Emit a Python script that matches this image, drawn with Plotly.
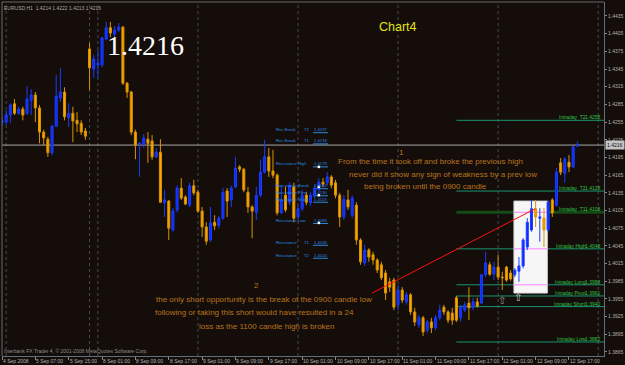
import plotly.graph_objects as go

# ---------------- data (EURUSD H1) ----------------
bar_open = [1.4253, 1.4255, 1.4267, 1.4286, 1.4270, 1.4277, 1.4270, 1.4292, 1.4301, 1.4279,
            1.4238, 1.4226, 1.4203, 1.4248, 1.4296, 1.4306, 1.4262, 1.4270, 1.4258, 1.4253,
            1.4240, 1.4379, 1.4345, 1.4352, 1.4352, 1.4396, 1.4415, 1.4404, 1.4411, 1.4416,
            1.4321, 1.4306, 1.4238, 1.4218, 1.4218, 1.4226, 1.4223, 1.4196, 1.4204, 1.4118,
            1.4121, 1.4072, 1.4106, 1.4143, 1.4128, 1.4114, 1.4147, 1.4136, 1.4104, 1.4077,
            1.4055, 1.4085, 1.4080, 1.4092, 1.4138, 1.4123, 1.4145, 1.4179, 1.4175, 1.4136,
            1.4111, 1.4102, 1.4131, 1.4170, 1.4196, 1.4172, 1.4165, 1.4101, 1.4131, 1.4119,
            1.4145, 1.4094, 1.4108, 1.4131, 1.4118, 1.4131, 1.4141, 1.4153, 1.4152, 1.4162,
            1.4152, 1.4131, 1.4094, 1.4123, 1.4097, 1.4114, 1.4055, 1.4016, 1.4038, 1.4030,
            1.4021, 1.4013, 1.3999, 1.3984, 1.3987, 1.3945, 1.3970, 1.3950, 1.3962, 1.3933,
            1.3911, 1.3923, 1.3902, 1.3916, 1.3906, 1.3923, 1.3941, 1.3933, 1.3931, 1.3957,
            1.3923, 1.3936, 1.3948, 1.3940, 1.3950, 1.3948, 1.3996, 1.4013, 1.3997, 1.4009,
            1.3992, 1.4009, 1.3999, 1.3996, 1.4002, 1.4011, 1.4043, 1.4072, 1.4108, 1.4092,
            1.4092, 1.4072, 1.4123, 1.4114, 1.4186, 1.4168, 1.4187, 1.4179, 1.4214]
bar_high = [1.4264, 1.4275, 1.4287, 1.4294, 1.4281, 1.4281, 1.4316, 1.4311, 1.4306, 1.4284,
            1.4242, 1.4230, 1.4250, 1.4335, 1.4347, 1.4314, 1.4287, 1.4281, 1.4272, 1.4258,
            1.4245, 1.4389, 1.4369, 1.4377, 1.4399, 1.4425, 1.4425, 1.4418, 1.4423, 1.4418,
            1.4323, 1.4308, 1.4242, 1.4221, 1.4235, 1.4238, 1.4233, 1.4211, 1.4226, 1.4140,
            1.4123, 1.4109, 1.4148, 1.4160, 1.4131, 1.4152, 1.4157, 1.4140, 1.4111, 1.4085,
            1.4111, 1.4097, 1.4096, 1.4143, 1.4143, 1.4147, 1.4196, 1.4182, 1.4177, 1.4145,
            1.4114, 1.4145, 1.4191, 1.4225, 1.4211, 1.4208, 1.4168, 1.4148, 1.4145, 1.4153,
            1.4152, 1.4114, 1.4140, 1.4136, 1.4136, 1.4148, 1.4160, 1.4160, 1.4170, 1.4165,
            1.4157, 1.4135, 1.4131, 1.4140, 1.4131, 1.4119, 1.4058, 1.4047, 1.4041, 1.4035,
            1.4024, 1.4018, 1.4004, 1.3991, 1.3991, 1.3979, 1.3975, 1.3967, 1.3965, 1.3940,
            1.3928, 1.3926, 1.3919, 1.3923, 1.3928, 1.3945, 1.3945, 1.3936, 1.3940, 1.3960,
            1.3945, 1.3950, 1.3975, 1.3957, 1.3957, 1.3997, 1.4035, 1.4018, 1.4018, 1.4030,
            1.4001, 1.4011, 1.4004, 1.4007, 1.4026, 1.4058, 1.4092, 1.4123, 1.4123, 1.4109,
            1.4109, 1.4123, 1.4126, 1.4177, 1.4194, 1.4196, 1.4199, 1.4214, 1.4222]
bar_low = [1.4248, 1.4250, 1.4253, 1.4267, 1.4267, 1.4258, 1.4267, 1.4267, 1.4255, 1.4219,
           1.4216, 1.4196, 1.4199, 1.4247, 1.4289, 1.4258, 1.4247, 1.4221, 1.4238, 1.4233,
           1.4225, 1.4309, 1.4330, 1.4330, 1.4348, 1.4394, 1.4399, 1.4399, 1.4408, 1.4318,
           1.4296, 1.4233, 1.4192, 1.4162, 1.4211, 1.4186, 1.4191, 1.4194, 1.4118, 1.4094,
           1.4055, 1.4069, 1.4102, 1.4123, 1.4114, 1.4111, 1.4131, 1.4101, 1.4060, 1.4047,
           1.4052, 1.4072, 1.4075, 1.4089, 1.4094, 1.4111, 1.4143, 1.4170, 1.4136, 1.4101,
           1.4058, 1.4089, 1.4128, 1.4168, 1.4162, 1.4160, 1.4097, 1.4099, 1.4102, 1.4114,
           1.4085, 1.4089, 1.4104, 1.4114, 1.4113, 1.4126, 1.4138, 1.4145, 1.4147, 1.4143,
           1.4126, 1.4077, 1.4089, 1.4106, 1.4092, 1.4047, 1.4013, 1.4011, 1.4018, 1.4013,
           1.3999, 1.3987, 1.3953, 1.3967, 1.3936, 1.3936, 1.3948, 1.3945, 1.3928, 1.3909,
           1.3906, 1.3892, 1.3897, 1.3897, 1.3902, 1.3919, 1.3928, 1.3914, 1.3911, 1.3916,
           1.3916, 1.3933, 1.3919, 1.3936, 1.3940, 1.3946, 1.3992, 1.3994, 1.3987, 1.3987,
           1.3970, 1.3984, 1.3986, 1.3992, 1.3984, 1.4007, 1.4038, 1.4069, 1.4077, 1.4052,
           1.4043, 1.4069, 1.4094, 1.4111, 1.4165, 1.4152, 1.4170, 1.4177, 1.4213]
bar_close = [1.4258, 1.4267, 1.4284, 1.4270, 1.4277, 1.4267, 1.4294, 1.4301, 1.4279, 1.4238,
             1.4228, 1.4203, 1.4248, 1.4299, 1.4306, 1.4264, 1.4270, 1.4257, 1.4252, 1.4238,
             1.4231, 1.4347, 1.4362, 1.4355, 1.4398, 1.4415, 1.4406, 1.4411, 1.4416, 1.4321,
             1.4306, 1.4238, 1.4216, 1.4219, 1.4228, 1.4219, 1.4196, 1.4204, 1.4119, 1.4123,
             1.4075, 1.4104, 1.4143, 1.4126, 1.4116, 1.4147, 1.4135, 1.4104, 1.4077, 1.4053,
             1.4084, 1.4079, 1.4092, 1.4136, 1.4121, 1.4143, 1.4177, 1.4175, 1.4140, 1.4111,
             1.4104, 1.4131, 1.4170, 1.4196, 1.4172, 1.4165, 1.4101, 1.4123, 1.4106, 1.4148,
             1.4092, 1.4108, 1.4131, 1.4119, 1.4131, 1.4143, 1.4153, 1.4150, 1.4162, 1.4148,
             1.4131, 1.4094, 1.4124, 1.4111, 1.4126, 1.4055, 1.4018, 1.4038, 1.4026, 1.4021,
             1.4004, 1.3991, 1.3965, 1.3975, 1.3941, 1.3970, 1.3953, 1.3962, 1.3933, 1.3916,
             1.3923, 1.3899, 1.3916, 1.3906, 1.3923, 1.3936, 1.3933, 1.3919, 1.3919, 1.3919,
             1.3940, 1.3945, 1.3940, 1.3950, 1.3943, 1.3996, 1.4016, 1.3997, 1.4009, 1.3992,
             1.3991, 1.3987, 1.3989, 1.4004, 1.4011, 1.4055, 1.4085, 1.4108, 1.4094, 1.4094,
             1.4072, 1.4119, 1.4101, 1.4170, 1.4170, 1.4192, 1.4179, 1.4213, 1.4216]
bars = list(range(len(bar_open)))

time_labels = ["4 Sep 2008", "5 Sep 07:00", "5 Sep 15:00", "8 Sep 01:00", "8 Sep 09:00",
               "8 Sep 17:00", "9 Sep 01:00", "9 Sep 09:00", "9 Sep 17:00", "10 Sep 01:00",
               "10 Sep 09:00", "10 Sep 17:00", "11 Sep 01:00", "11 Sep 09:00", "11 Sep 17:00",
               "12 Sep 01:00", "12 Sep 09:00", "12 Sep 17:00"]
time_label_bars = [0, 8, 16, 24, 32, 40, 48, 56, 64, 72, 80, 88, 96, 104, 112, 120, 128, 136]

price_ticks = [1.3865, 1.3895, 1.3925, 1.3955, 1.3985, 1.4015, 1.4045, 1.4075, 1.4105, 1.4135,
               1.4165, 1.4195, 1.4225, 1.4255, 1.4285, 1.4315, 1.4345, 1.4375, 1.4405, 1.4435]
grid_bars = [1, 21, 23, 47, 71, 95, 119, 143]

res_names = ["Res Break", "Res Break", "Resistance High", "Resistance Break", "Resistance Pivot",
             "Resistance Short", "Resistance Low", "Resistance", "Resistance"]
res_tags = ["T2", "T1", "", "", "", "", "", "T1", "T2"]
res_values = [1.4237, 1.4218, 1.4179, 1.4142, 1.4130, 1.4119, 1.4083, 1.4046, 1.4024]
res_marks = [1.4179, 1.4145, 1.4131, 1.4084]
res_mark_bar = 76

int_names = ["Intraday  T2", "Intraday  T2", "Intraday  T1", "Intraday High", "Intraday Long",
             "Intraday Pivot", "Intraday Short", "Intraday Low"]
int_value_text = ["1.4258", "1.4128", "1.4108", "1.4048", "1.3988", "1.3961", "1.3940", "1.3882"]
int_levels = [1.4258, 1.4138, 1.4102, 1.4040, 1.3979, 1.3960, 1.3942, 1.3882]
int_start_bar = 109

box_bars = [122.8, 130.8]
box_prices = [1.3965, 1.4121]

red_bars = [88.8, 127.9]
red_prices = [1.3965, 1.4108]

arrow_bars = [120.0, 123.8]
arrow_prices = [1.3953, 1.3958]

header_text = "EURUSD,H1  1.4214 1.4222 1.4213 1.4216"
notes_top = ["From the time it took off and broke the previous high",
             "never did it show any sign of weakness by a prev low",
             "being broken until the 0900 candle"]
notes_bottom = ["the only short opportunity is the break of the 0900 candle low",
                "following or taking this short would have resulted in a 24",
                "loss as the 1100 candle high is broken"]

# ---------------- layout helpers ----------------
W, H = 625, 365
ML, MR, MT, MB = 2, 21, 2, 9
X_RANGE = [0, 144.4]
Y_RANGE = [1.38582, 1.44587]
BG = "#150d09"
SANS = "Liberation Sans, Arial, sans-serif"


def px(x):
    return (x - ML) / (W - ML - MR)


def py(y):
    return (H - MB - y) / (H - MT - MB)


fig = go.Figure()
fig.add_trace(go.Candlestick(
    x=bars, open=bar_open, high=bar_high, low=bar_low, close=bar_close,
    increasing=dict(line=dict(color="#1a3cff", width=1), fillcolor="#0b2bff"),
    decreasing=dict(line=dict(color="#d89400", width=1), fillcolor="#ffa500"),
    whiskerwidth=0, hoverinfo="skip", showlegend=False))

# white marker squares near resistance labels
fig.add_trace(go.Scatter(x=[res_mark_bar] * len(res_marks), y=res_marks, mode="markers",
                         marker=dict(symbol="square", size=2.5, color="#ffffff"),
                         hoverinfo="skip", showlegend=False))

shapes = []
for g in grid_bars:
    shapes.append(dict(type="line", xref="x", yref="paper", x0=g, x1=g, y0=0, y1=1,
                       line=dict(color="#434b55", width=1, dash="dot"), layer="below"))
# bid line
shapes.append(dict(type="line", xref="paper", yref="y", x0=0, x1=1, y0=bar_close[-1], y1=bar_close[-1],
                   line=dict(color="#a8a8a8", width=1), layer="below"))
# intraday levels
for i, lv in enumerate(int_levels):
    if int_names[i] == "Intraday  T1":
        ln = dict(color="#134a16", width=3)
    else:
        ln = dict(color="#1a9472", width=1)
    shapes.append(dict(type="line", xref="x", yref="y", x0=int_start_bar, x1=X_RANGE[1], y0=lv, y1=lv,
                       line=ln, layer="below"))
# white rectangle
shapes.append(dict(type="rect", xref="x", yref="y", x0=box_bars[0], x1=box_bars[1],
                   y0=box_prices[0], y1=box_prices[1], fillcolor="#f6f6f6",
                   line=dict(color="#d8d8d8", width=1), layer="below"))
for lv in int_levels:
    if box_prices[0] < lv < box_prices[1]:
        shapes.append(dict(type="line", xref="x", yref="y", x0=box_bars[0], x1=box_bars[1], y0=lv, y1=lv,
                           line=dict(color="#ff80ff", width=1), layer="below"))
# resistance underlines
for v in res_values:
    shapes.append(dict(type="line", xref="paper", yref="y", x0=px(313), x1=px(328), y0=v, y1=v,
                       line=dict(color="#2a8ae0", width=1), layer="below"))
# red trend line
shapes.append(dict(type="line", xref="x", yref="y", x0=red_bars[0], x1=red_bars[1],
                   y0=red_prices[0], y1=red_prices[1], line=dict(color="#ff1010", width=1), layer="above"))
# frame left/top
shapes.append(dict(type="line", xref="paper", yref="paper", x0=0, x1=0, y0=0, y1=1,
                   line=dict(color="#6a6a6a", width=1)))
shapes.append(dict(type="line", xref="paper", yref="paper", x0=0, x1=1, y0=1, y1=1,
                   line=dict(color="#6a6a6a", width=1)))

ann = []
# time labels
for b, t in zip(time_label_bars, time_labels):
    ann.append(dict(x=b, xref="x", y=0, yref="paper", text=t, showarrow=False, xanchor="left",
                    yanchor="top", xshift=-1, yshift=0, font=dict(family=SANS, size=5, color="#b4b4b4")))
# header + copyright
ann.append(dict(x=0, xref="paper", y=1, yref="paper", text=header_text, showarrow=False,
                xanchor="left", yanchor="top", yshift=-1, font=dict(family=SANS, size=5, color="#a8a8a8")))
ann.append(dict(x=0, xref="paper", y=0, yref="paper",
                text="Interbank FX Trader 4, \u00a9 2001-2008 MetaQuotes Software Corp.", showarrow=False,
                xanchor="left", yanchor="bottom", yshift=0, font=dict(family=SANS, size=5, color="#8c8c8c")))


def centered(x, y, text, size, color, family=SANS):
    return dict(x=px(x), xref="paper", y=py(y), yref="paper", text=text, showarrow=False,
                xanchor="center", yanchor="middle", font=dict(family=family, size=size, color=color))


# big price and Chart4
ann.append(centered(145, 45, f"{bar_close[-1]:.4f}", 28, "#ffffff",
                    "Liberation Serif, Times New Roman, serif"))
ann.append(centered(398, 27, "Chart4", 12.5, "#e2e21c"))
# current price box on the axis
ann.append(dict(x=1, xref="paper", y=bar_close[-1], yref="y", text=f"{bar_close[-1]:.4f}", showarrow=False,
                xanchor="left", yanchor="middle", bgcolor="#c4c4c4", borderpad=1, xshift=1,
                font=dict(family=SANS, size=5, color="#101010")))
# orange notes
ORANGE_TXT = "#b8741f"
for t, (cx, cy) in zip(notes_top, [(431, 161), (443, 174), (425, 186)]):
    ann.append(centered(cx, cy, t, 8, ORANGE_TXT))
for t, (cx, cy) in zip(notes_bottom, [(264, 299), (254, 312), (267, 326)]):
    ann.append(centered(cx, cy, t, 8, ORANGE_TXT))
ann.append(centered(401, 152, "1", 8, ORANGE_TXT))
ann.append(centered(256, 285, "2", 8, ORANGE_TXT))
# resistance labels
BLUE_TXT = "#2a8ae0"
for n, tg, v in zip(res_names, res_tags, res_values):
    ann.append(dict(x=px(274), xref="paper", y=v, yref="y", text=n, showarrow=False, xanchor="left",
                    yanchor="middle", yshift=3, font=dict(family=SANS, size=4.2, color=BLUE_TXT)))
    if tg:
        ann.append(dict(x=px(302), xref="paper", y=v, yref="y", text=tg, showarrow=False, xanchor="left",
                        yanchor="middle", yshift=3, font=dict(family=SANS, size=4.2, color=BLUE_TXT)))
    ann.append(dict(x=px(312), xref="paper", y=v, yref="y", text=f"{v:.4f}", showarrow=False,
                    xanchor="left", yanchor="middle", yshift=3,
                    font=dict(family=SANS, size=4.2, color=BLUE_TXT)))
# intraday labels
GREEN_TXT = "#2cc244"
for n, vt, lv in zip(int_names, int_value_text, int_levels):
    ann.append(dict(x=px(588), xref="paper", y=lv, yref="y", text=n, showarrow=False, xanchor="right",
                    yanchor="middle", yshift=3, font=dict(family=SANS, size=5, color=GREEN_TXT)))
    ann.append(dict(x=px(603), xref="paper", y=lv, yref="y", text=vt, showarrow=False, xanchor="right",
                    yanchor="middle", yshift=3, font=dict(family=SANS, size=5, color=GREEN_TXT)))
# hollow arrows
for b, p, c in zip(arrow_bars, arrow_prices, ["#9a9a9a", "#d0d0d0"]):
    ann.append(dict(x=b, xref="x", y=p, yref="y", text="\u21e7", showarrow=False,
                    xanchor="center", yanchor="middle",
                    font=dict(family="DejaVu Sans", size=10, color=c)))

fig.update_layout(
    width=W, height=H, autosize=False, template="none",
    margin=dict(l=ML, r=MR, t=MT, b=MB, pad=0),
    paper_bgcolor=BG, plot_bgcolor=BG,
    showlegend=False, shapes=shapes, annotations=ann,
    xaxis=dict(range=X_RANGE, showgrid=False, zeroline=False, showline=True, linecolor="#5d7080",
               linewidth=1, ticks="outside", ticklen=3, tickcolor="#8a8a8a", tickvals=time_label_bars,
               showticklabels=False, rangeslider=dict(visible=False), automargin=False, fixedrange=True),
    yaxis=dict(range=Y_RANGE, side="right", showgrid=False, zeroline=False, showline=True,
               linecolor="#5d7080", linewidth=1, ticks="outside", ticklen=2, tickcolor="#8a8a8a",
               tickvals=price_ticks, ticktext=[f"{p:.4f}" for p in price_ticks],
               tickfont=dict(family=SANS, size=5, color="#b0b0b0"), automargin=False, fixedrange=True),
)

fig.write_html("out.html")
